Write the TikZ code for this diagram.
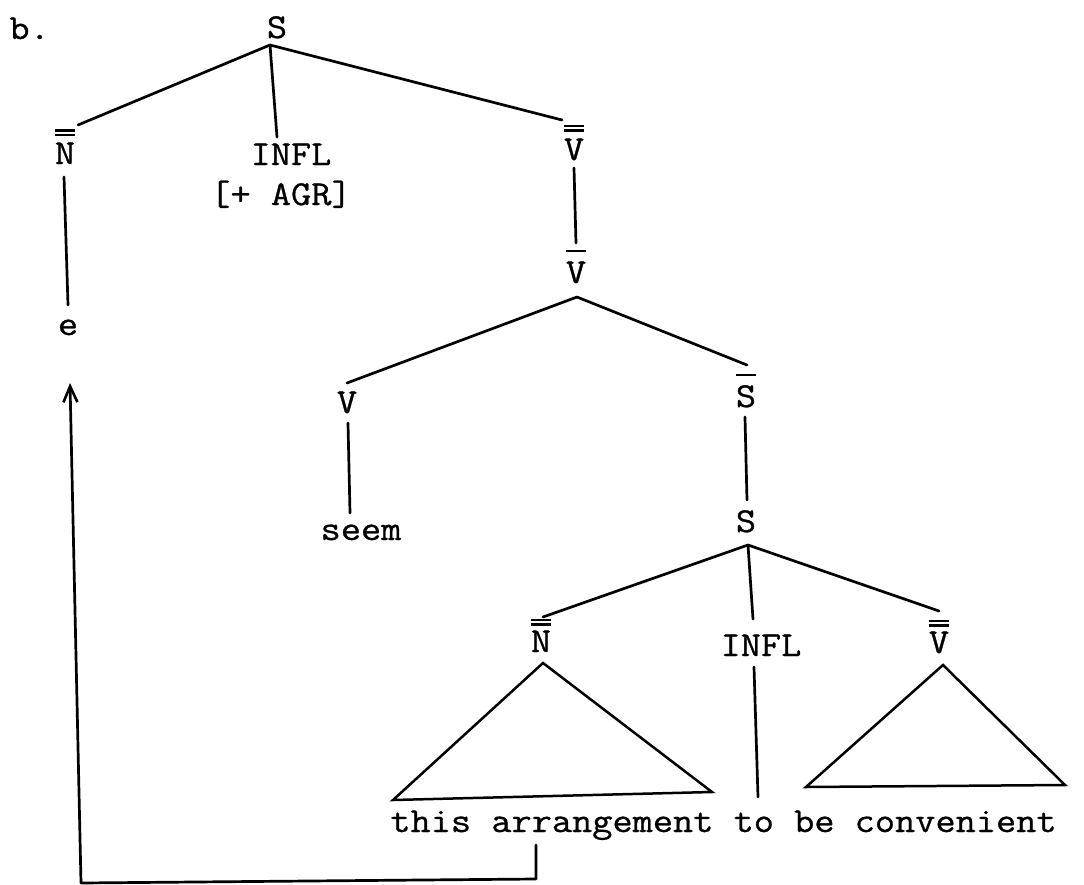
\documentclass[tikz,border=0pt]{standalone}
\usepackage{fontspec}
\usetikzlibrary{calc,arrows.meta}
\newfontfamily\twfam{Latin Modern Mono}[FakeStretch=1.12,FakeBold=0.8]
\newcommand{\tw}{\twfam\fontsize{17.5pt}{20pt}\selectfont}
\newsavebox\lblbox
\newcommand{\barred}[3]{%
  \sbox\lblbox{#3}%
  \vbox{\offinterlineskip
    \ifnum#1>1
      \hbox to\wd\lblbox{\hss\vrule width .58em height .065em depth 0pt\hss}%
      \vskip .07em
    \fi
    \hbox to\wd\lblbox{\hss\vrule width .58em height .065em depth 0pt\hss}%
    \vskip #2
    \box\lblbox}}
\begin{document}
\begin{tikzpicture}[x=0.5pt,y=-0.5pt,
  lbl/.style={inner sep=0pt,anchor=base,font=\tw},
  conn/.style={line width=1.35pt,line cap=round,line join=round},
  tri/.style={line width=1.25pt,line join=miter}]
\fill[white] (0,0) rectangle (1084,885);
\useasboundingbox (0,0) rectangle (1084,885);

% labels
\node[lbl,anchor=base west] (b) at (9,39) {b.};
\node[lbl] (S0) at (277,38) {S};
\node[lbl] (N1) at (65,164) {\barred{2}{.18em}{N}};
\node[lbl] (I1) at (291,165) {INFL};
\node[lbl] (AGR) at (281,205) {[+ AGR]};
\node[lbl] (V1) at (574,160) {\barred{2}{.2em}{V}};
\node[lbl] (e) at (68,335) {e};
\node[lbl] (V2) at (576,283) {\barred{1}{.28em}{V}};
\node[lbl] (V3) at (347,413) {V};
\node[lbl] (seem) at (361,540) {seem};
\node[lbl] (S1) at (746,407) {\barred{1}{.26em}{S}};
\node[lbl] (S2) at (746,532) {S};
\node[lbl] (N2) at (541,652) {\barred{2}{.14em}{N}};
\node[lbl] (I2) at (761,656) {INFL};
\node[lbl] (V4) at (939,653) {\barred{2}{.14em}{V}};
\node[lbl,anchor=base west] (words) at (390,832) {this arrangement to be convenient};

% junctions
\coordinate (j0) at ($(S0.base)+(-7,7)$);
\coordinate (j1) at ($(V2.base)+(1,14)$);
\coordinate (j2) at ($(S2.base)+(2,13)$);

% tree branches
\draw[conn] (j0) -- ($(N1.base)+(13,-39)$);
\draw[conn] (j0) -- ($(I1.base)+(-14,-28)$);
\draw[conn] (j0) -- ($(V1.base)+(-12,-40)$);
\draw[conn] ($(N1.base)+(-1,13)$) -- ($(e.base)+(0,-30)$);
\draw[conn] ($(V1.base)+(0,8)$) -- ($(V2.base)+(0,-40)$);
\draw[conn] (j1) -- ($(V3.base)+(0,-30)$);
\draw[conn] (j1) -- ($(S1.base)+(1,-42)$);
\draw[conn] ($(V3.base)+(1,10)$) -- ($(seem.base)+(-11,-27)$);
\draw[conn] ($(S1.base)+(-1,10)$) -- ($(S2.base)+(1,-32)$);
\draw[conn] (j2) -- ($(N2.base)+(2,-35)$);
\draw[conn] (j2) -- ($(I2.base)+(-8,-37)$);
\draw[conn] (j2) -- ($(V4.base)+(0,-42)$);
\draw[conn] ($(I2.base)+(-7,11)$) -- ($(words.base west)+(368,-35)$);

% triangles
\draw[tri] ($(N2.base)+(2,11)$) -- ($(words.base west)+(3,-32)$) -- ($(words.base west)+(322,-40)$) -- cycle;
\draw[tri] ($(V4.base)+(4,12)$) -- ($(words.base west)+(416,-45)$) -- ($(words.base west)+(675,-47)$) -- cycle;

% movement arrow
\coordinate (t1) at (536,879);
\coordinate (t2) at (81,883);
\draw[conn,-{Straight Barb[length=8pt,width=7pt,line width=1.3pt]}]
  ($(words.base west)+(146,13)$) -- (t1) -- (t2) -- ($(e.base)+(2,48)$);
\end{tikzpicture}
\end{document}
